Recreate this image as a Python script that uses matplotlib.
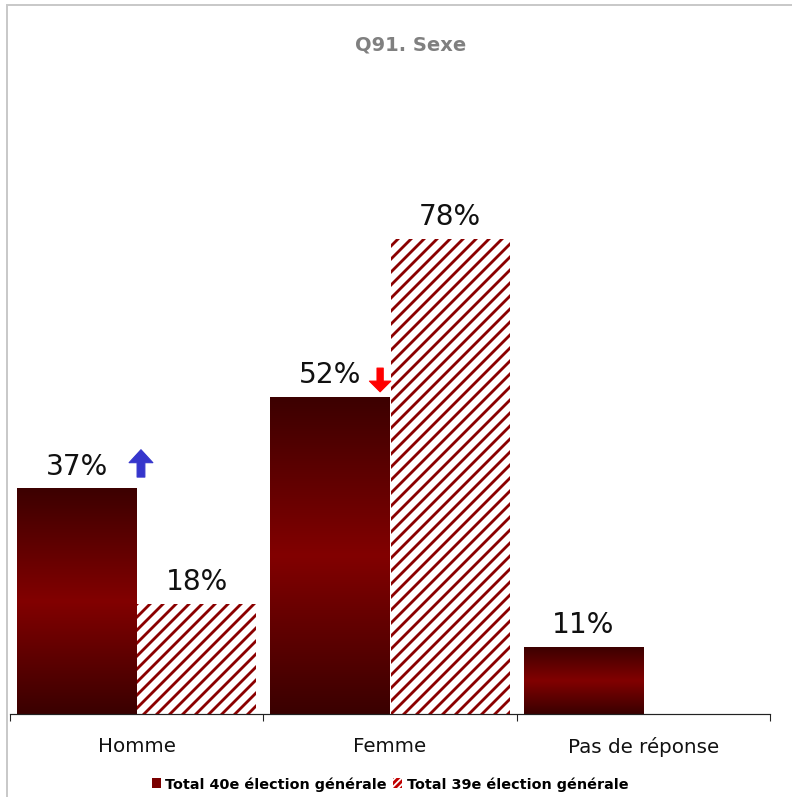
import numpy as np
import matplotlib
matplotlib.use("Agg")
import matplotlib.pyplot as plt
from matplotlib.colors import LinearSegmentedColormap
from matplotlib.patches import Rectangle, Patch

categories = ["Homme", "Femme", "Pas de réponse"]
series_names = ["Total 40e élection générale", "Total 39e élection générale"]
values_40 = [37, 52, 11]
values_39 = [18, 78, 0]
# change markers: (category index, direction)
changes = [(0, "up"), (1, "down")]

DPI = 78
W, H = 792, 798
plt.rcParams['font.family'] = ['DejaVu Sans']
plt.rcParams['hatch.linewidth'] = 2.6

fig = plt.figure(figsize=(W / DPI, H / DPI), dpi=DPI)
fig.patch.set_facecolor("white")

# figure border (light gray, left and top)
fig.add_artist(Rectangle((7 / W, -0.1), 1.2, 1 - 6 / H + 0.1, transform=fig.transFigure,
                         fill=False, edgecolor="#c8c8c8", linewidth=1.8))

ax_left, ax_right = 10 / W, 770 / W
ax_bottom = 1 - 715 / H
ax_top = 1 - 106 / H
ax = fig.add_axes([ax_left, ax_bottom, ax_right - ax_left, ax_top - ax_bottom])
ax.set_facecolor("none")

x = np.arange(len(categories))
bw = 0.47
off = 0.237

cmap = LinearSegmentedColormap.from_list(
    "grad", [(0.0, "#3a0000"), (0.5, "#820000"), (1.0, "#3c0000")])
grad = np.linspace(0, 1, 256).reshape(-1, 1)

# series 40e: gradient bars
bars40 = ax.bar(x - off, values_40, width=bw, color="none", edgecolor="none")
for b in bars40:
    x0, y0, w, h = b.get_x(), b.get_y(), b.get_width(), b.get_height()
    ax.imshow(grad, cmap=cmap, origin="lower", aspect="auto",
              extent=(x0, x0 + w, y0, y0 + h), interpolation="bicubic", zorder=2)

# series 39e: hatched bars
bars39 = ax.bar(x + off, values_39, width=bw, color="white", edgecolor="#8b0000",
                linewidth=0, hatch="//", zorder=2)

# value labels
for xi, v in zip(x - off, values_40):
    if v > 0:
        ax.annotate(f"{v}%", (xi, v), xytext=(0, 14), textcoords="offset points",
                    ha="center", va="baseline", fontsize=26, color="#111111", zorder=5)
for xi, v in zip(x + off, values_39):
    if v > 0:
        ax.annotate(f"{v}%", (xi, v), xytext=(0, 14), textcoords="offset points",
                    ha="center", va="baseline", fontsize=26, color="#111111", zorder=5)

# change arrows
for ci, d in changes:
    if d == "up":
        xa = ci + 0.017
        ax.annotate("", xy=(xa, 43.4), xytext=(xa, 38.9),
                    arrowprops=dict(arrowstyle="simple,head_width=1.1,head_length=0.6,tail_width=0.36",
                                    color="#3535cc", shrinkA=0, shrinkB=0, mutation_scale=20),
                    zorder=6)
    else:
        xa = ci - 0.039
        ax.annotate("", xy=(xa, 52.9), xytext=(xa, 56.8),
                    arrowprops=dict(arrowstyle="simple,head_width=1.1,head_length=0.55,tail_width=0.32",
                                    color="#ff0000", shrinkA=0, shrinkB=0, mutation_scale=18),
                    zorder=6)

ax.set_xlim(-0.5, len(categories) - 0.5)
ax.set_ylim(0, 100)
for s in ["top", "right", "left"]:
    ax.spines[s].set_visible(False)
ax.spines["bottom"].set_color("#222222")
ax.spines["bottom"].set_linewidth(1.1)
ax.set_yticks([])
ax.set_xticks(np.arange(len(categories) + 1) - 0.5)
ax.set_xticklabels([])
ax.tick_params(axis="x", which="major", direction="out", length=6, width=1, color="#222222")
ax.set_xticks(x, minor=True)
ax.set_xticklabels(categories, minor=True, fontsize=18.3, color="#111111")
ax.tick_params(axis="x", which="minor", length=0, pad=20)

# title
fig.text(411 / W, 1 - 45 / H, "Q91. Sexe", ha="center", va="center",
         fontsize=18, fontweight="bold", color="#808080")

# legend
handles = [Patch(facecolor="#7a0000", edgecolor="none"),
           Patch(facecolor="white", edgecolor="#c00000", hatch="////", linewidth=0)]
leg = fig.legend(handles, series_names, loc="center", ncol=2,
                 bbox_to_anchor=(390 / W, 1 - 785 / H), frameon=False,
                 prop=dict(size=13.3, weight="bold"), handlelength=0.65, handleheight=0.65,
                 handletextpad=0.3, columnspacing=0.4, borderpad=0)

fig.savefig("out.png", dpi=DPI, facecolor="white")
